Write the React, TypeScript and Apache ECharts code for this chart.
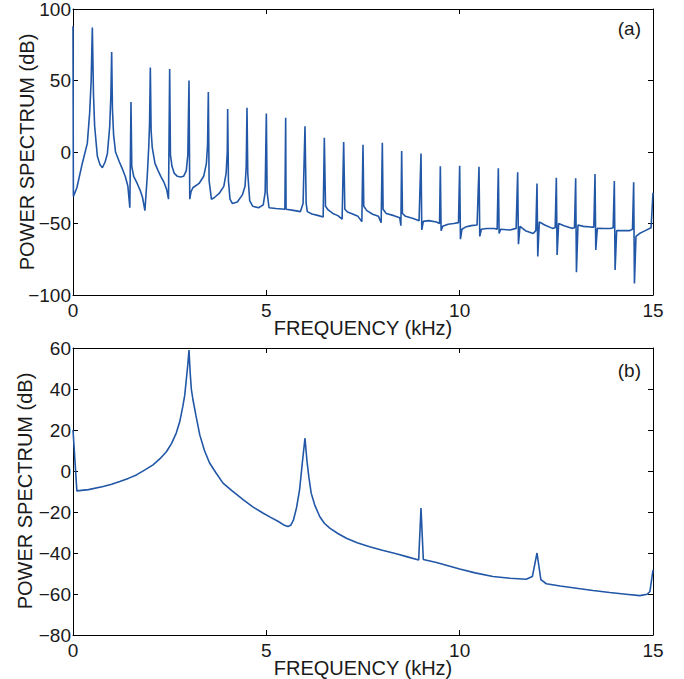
import React, { useEffect, useRef } from "react";
import * as echarts from "echarts";

// Panel (a): power spectrum of the periodic signal, [frequency kHz, dB]
const spectrumA: [number, number][] = [
  [0, 88], [0.01, -31], [0.1, -25], [0.24, -8], [0.37, 6], [0.43, 27], [0.47, 50], [0.5, 87],
  [0.53, 40], [0.56, 18], [0.63, -3], [0.7, -9], [0.76, -11], [0.83, -7], [0.89, -1], [0.95, 18],
  [0.98, 40], [1.0, 70], [1.02, 30], [1.05, 12], [1.1, 0], [1.2, -7], [1.28, -12], [1.35, -17],
  [1.42, -24], [1.47, -39], [1.5, 35], [1.52, -10], [1.57, -17], [1.66, -22], [1.74, -27], [1.8, -32],
  [1.86, -41], [1.92, -17], [1.96, 4], [1.98, 20], [2.0, 59], [2.02, 15], [2.05, 3], [2.12, -8],
  [2.2, -13], [2.27, -17], [2.35, -21], [2.42, -26], [2.47, -33], [2.5, 58], [2.52, -2], [2.56, -10],
  [2.62, -15], [2.7, -17], [2.78, -17.5], [2.86, -17], [2.93, -13], [2.97, -2], [3.0, 50], [3.02, -33],
  [3.05, -28], [3.1, -25], [3.26, -22], [3.38, -17], [3.45, -8], [3.48, 5], [3.5, 42], [3.52, -20],
  [3.58, -33], [3.65, -32], [3.78, -29], [3.9, -24], [3.96, -15], [3.99, 0], [4.0, 30], [4.02, -20],
  [4.06, -33], [4.12, -36], [4.25, -35], [4.38, -30], [4.45, -24], [4.48, -10], [4.5, 31], [4.52, -15],
  [4.57, -34], [4.65, -38], [4.8, -39], [4.92, -37], [4.97, -28], [5.0, 27], [5.02, -28], [5.07, -39],
  [5.25, -39.5], [5.48, -40], [5.5, 24], [5.51, -40], [5.7, -40.8], [5.88, -41.7], [5.95, -36], [6.0, 18],
  [6.03, -36], [6.06, -41.7], [6.18, -43.4], [6.35, -44.5], [6.47, -45.5], [6.5, 10], [6.53, -38], [6.6, -40.5],
  [6.72, -43], [6.85, -44.5], [6.96, -47], [7.0, 7], [7.03, -40], [7.1, -42], [7.2, -43], [7.37, -45],
  [7.47, -48.7], [7.5, 5], [7.52, -38], [7.6, -41], [7.75, -43.5], [7.9, -45], [7.97, -49.5], [8.0, 6.5],
  [8.02, -40], [8.1, -43], [8.3, -44.5], [8.45, -46], [8.48, -51.5], [8.5, 0.7], [8.52, -43], [8.6, -45],
  [8.8, -46.5], [8.95, -48], [9.0, -1], [9.02, -54.5], [9.06, -48.5], [9.2, -48], [9.4, -49], [9.48, -50],
  [9.5, -10], [9.52, -55], [9.56, -52], [9.7, -50.5], [9.85, -50], [9.97, -49.4], [10.0, -9.6], [10.02, -61],
  [10.06, -54], [10.15, -52.5], [10.3, -51.5], [10.45, -51], [10.5, -10.3], [10.52, -59], [10.56, -54], [10.7, -53.5],
  [10.9, -53.5], [10.97, -54], [11.0, -11.4], [11.02, -57], [11.06, -54], [11.3, -54.5], [11.46, -53.4], [11.5, -14.2],
  [11.52, -64.5], [11.56, -52], [11.7, -55], [11.9, -57], [11.97, -55], [12.0, -22], [12.02, -73], [12.06, -49],
  [12.2, -51], [12.4, -53.4], [12.47, -53], [12.5, -18], [12.52, -72], [12.56, -50], [12.7, -51.5], [12.9, -53.4],
  [12.97, -53], [13.0, -18.4], [13.02, -84], [13.06, -51], [13.2, -52], [13.4, -52.5], [13.47, -52.5], [13.5, -15.4],
  [13.52, -68.5], [13.56, -53.4], [13.75, -53.5], [13.9, -53.5], [13.97, -53], [14.0, -20.3], [14.02, -82.5], [14.06, -55],
  [14.2, -55], [14.4, -55], [14.47, -54], [14.5, -21.2], [14.52, -92], [14.56, -59], [14.65, -57], [14.8, -55],
  [14.95, -53], [15.0, -28.5],
];

// Panel (b): power spectrum, [frequency kHz, dB]
const spectrumB: [number, number][] = [
  [0, 20], [0.1, -9.7], [0.4, -9.1], [0.78, -7.6], [1.0, -6.5], [1.21, -5.1], [1.43, -3.6], [1.64, -1.9],
  [1.85, 0.4], [2.07, 3], [2.25, 6], [2.42, 9.5], [2.55, 13.5], [2.67, 18.5], [2.76, 24], [2.84, 31.5],
  [2.89, 37], [2.93, 44.5], [2.97, 52], [3.0, 59], [3.03, 48], [3.06, 40], [3.1, 35], [3.18, 27],
  [3.28, 17.5], [3.4, 10], [3.53, 4], [3.7, -1], [3.88, -5.9], [4.1, -9.5], [4.4, -14], [4.65, -17.5],
  [4.91, -20.5], [5.1, -22.5], [5.3, -24.5], [5.45, -26.3], [5.56, -27.1], [5.63, -26.5], [5.7, -24], [5.78, -18],
  [5.86, -9.2], [5.93, 3.8], [6.0, 16], [6.05, 5], [6.1, -3], [6.16, -10.8], [6.25, -16.5], [6.38, -22.2],
  [6.5, -25.5], [6.64, -27.9], [6.85, -30.5], [7.07, -32.8], [7.35, -35], [7.67, -36.9], [8.0, -38.7], [8.36, -40.4],
  [8.65, -41.9], [8.94, -43.4], [9.0, -18.1], [9.06, -43.2], [9.4, -44.6], [9.7, -46.2], [10.0, -47.8], [10.4, -49.7],
  [10.86, -51.5], [11.3, -52.3], [11.72, -52.8], [11.88, -51.5], [12.0, -40], [12.1, -53], [12.24, -55], [12.6, -56.1],
  [13.02, -57.2], [13.45, -58.3], [13.88, -59.3], [14.3, -60.1], [14.66, -60.8], [14.85, -60.1], [14.92, -58.8], [15.0, -48.3],
];

const xRange = [0, 15];
const xStep = 5;
const yRangeA = [-100, 100];
const yStepA = 50;
const yRangeB = [-80, 60];
const yStepB = 20;
const panelLabels = ["(a)", "(b)"];
const xTitle = "FREQUENCY (kHz)";
const yTitle = "POWER SPECTRUM (dB)";

const FONT = "Liberation Sans, Arial, Helvetica, sans-serif";
const TEXT = "#1a1a1a";
const LINE = "#2157a6";

const fmt = (v: number) => (v < 0 ? "\u2212" + Math.abs(v) : String(v));

export default function App() {
  const ref = useRef<HTMLDivElement>(null);
  useEffect(() => {
    if (!ref.current) return;
    const chart = echarts.init(ref.current, undefined, { renderer: "svg" });
    const grids = [
      { left: 73, top: 9, width: 580, height: 286, outerBoundsMode: "none", containLabel: false },
      { left: 73, top: 348, width: 580, height: 287, outerBoundsMode: "none", containLabel: false },
    ];
    const baseLine = { show: true, onZero: false, lineStyle: { color: "#000", width: 1 } };
    const baseTick = { show: true, inside: true, length: 5, lineStyle: { color: "#000", width: 1 } };
    const xAxes: any[] = [];
    const yAxes: any[] = [];
    const yRanges = [yRangeA, yRangeB];
    const ySteps = [yStepA, yStepB];
    for (let g = 0; g < 2; g++) {
      xAxes.push({
        gridIndex: g, type: "value", min: xRange[0], max: xRange[1], interval: xStep, position: "bottom",
        axisLine: baseLine, axisTick: baseTick, splitLine: { show: false },
        axisLabel: { margin: 6, fontSize: 19, color: TEXT, fontFamily: FONT, formatter: fmt },
      });
      xAxes.push({
        gridIndex: g, type: "value", min: xRange[0], max: xRange[1], interval: xStep, position: "top",
        axisLine: baseLine, axisTick: baseTick, splitLine: { show: false }, axisLabel: { show: false },
      });
      yAxes.push({
        gridIndex: g, type: "value", min: yRanges[g][0], max: yRanges[g][1], interval: ySteps[g], position: "left",
        axisLine: baseLine, axisTick: baseTick, splitLine: { show: false },
        axisLabel: { margin: 2, fontSize: 19, color: TEXT, fontFamily: FONT, formatter: fmt },
      });
      yAxes.push({
        gridIndex: g, type: "value", min: yRanges[g][0], max: yRanges[g][1], interval: ySteps[g], position: "right",
        axisLine: baseLine, axisTick: baseTick, splitLine: { show: false }, axisLabel: { show: false },
      });
    }
    const titleStyle = (text: string) => ({
      text, fontSize: 20, fill: TEXT, fontFamily: FONT, align: "center", verticalAlign: "middle",
    });
    chart.setOption({
      animation: false,
      backgroundColor: "#fff",
      grid: grids,
      xAxis: xAxes,
      yAxis: yAxes,
      series: [
        {
          type: "line", xAxisIndex: 0, yAxisIndex: 0, data: spectrumA, showSymbol: false,
          lineStyle: { color: LINE, width: 1.6 }, itemStyle: { color: LINE },
        },
        {
          type: "line", xAxisIndex: 2, yAxisIndex: 2, data: spectrumB, showSymbol: false,
          lineStyle: { color: LINE, width: 1.6 }, itemStyle: { color: LINE },
        },
      ],
      graphic: [
        { type: "text", x: 363, y: 328, style: titleStyle(xTitle) },
        { type: "text", x: 363, y: 668, style: titleStyle(xTitle) },
        { type: "text", x: 27, y: 152, rotation: Math.PI / 2, style: titleStyle(yTitle) },
        { type: "text", x: 25, y: 491, rotation: Math.PI / 2, style: titleStyle(yTitle) },
        {
          type: "text", right: 43, top: 19,
          style: { text: panelLabels[0], fontSize: 19, fill: TEXT, fontFamily: FONT },
        },
        {
          type: "text", right: 43, top: 361,
          style: { text: panelLabels[1], fontSize: 19, fill: TEXT, fontFamily: FONT },
        },
      ],
    });
    return () => chart.dispose();
  }, []);
  return (
    <div
      ref={ref}
      style={{ position: "absolute", left: 0, top: 0, width: 684, height: 679 }}
    />
  );
}
